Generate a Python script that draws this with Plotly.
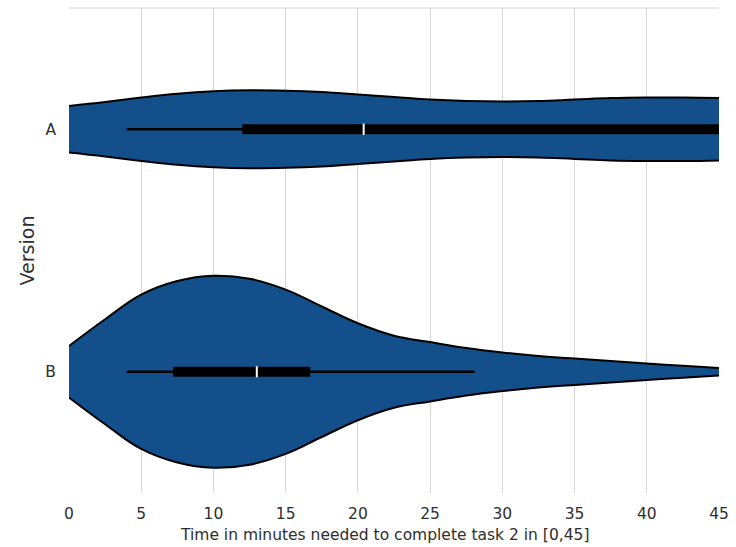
import plotly.graph_objects as go

# Versions, top to bottom
versions = ["A", "B"]

# Density profile of task-2 completion time (minutes), sampled every 2.5 min
grid = [0, 2.5, 5, 7.5, 10, 12.5, 15, 17.5, 20, 22.5, 25, 27.5, 30, 32.5, 35, 37.5, 40, 42.5, 45]
density_a = [0.240, 0.281, 0.327, 0.367, 0.393, 0.403, 0.398, 0.383, 0.357, 0.332,
             0.306, 0.291, 0.286, 0.291, 0.306, 0.321, 0.327, 0.327, 0.321]
density_b = [0.265, 0.541, 0.796, 0.936, 0.990, 0.959, 0.847, 0.673, 0.500, 0.372,
             0.306, 0.245, 0.199, 0.163, 0.136, 0.112, 0.085, 0.061, 0.039]

# Box summaries: lower whisker, Q1, median, Q3, upper whisker
box_a = [4.0, 12.0, 20.4, 45.0, 45.0]
box_b = [4.0, 7.2, 13.0, 16.7, 28.1]

x_ticks = [0, 5, 10, 15, 20, 25, 30, 35, 40, 45]
x_title = "Time in minutes needed to complete task 2 in [0,45]"
y_title = "Version"

densities = [density_a, density_b]
boxes = [box_a, box_b]

half_width = 0.40
fill_color = "#13508b"
edge = dict(color="black", width=2, shape="spline", smoothing=1.2)

fig = go.Figure()

n = len(versions)
for i, name in enumerate(versions):
    center = n - 1 - i
    dens = densities[i]
    lower = [center - half_width * d for d in dens]
    upper = [center + half_width * d for d in dens]
    fig.add_trace(go.Scatter(x=grid, y=lower, mode="lines", line=edge,
                             hoverinfo="skip", showlegend=False))
    fig.add_trace(go.Scatter(x=grid, y=upper, mode="lines", fill="tonexty",
                             fillcolor=fill_color, line=edge,
                             hoverinfo="skip", showlegend=False))

    lo, q1, med, q3, hi = boxes[i]
    # whiskers
    fig.add_trace(go.Scatter(x=[lo, hi], y=[center, center], mode="lines",
                             line=dict(color="black", width=2.5),
                             hoverinfo="skip", showlegend=False))
    # interquartile bar
    fig.add_trace(go.Scatter(x=[q1, q3], y=[center, center], mode="lines",
                             line=dict(color="black", width=10),
                             hoverinfo="skip", showlegend=False))
    # median tick
    fig.add_trace(go.Scatter(x=[med], y=[center], mode="markers",
                             marker=dict(symbol="line-ns", size=8,
                                         line=dict(color="white", width=2)),
                             hoverinfo="skip", showlegend=False))

font_color = "#2e2e2e"
fig.update_layout(
    width=736, height=547,
    margin=dict(l=69, r=17, t=8, b=54),
    plot_bgcolor="white", paper_bgcolor="white",
    font=dict(family="DejaVu Sans, sans-serif", size=15.5, color=font_color),
    xaxis=dict(range=[0, 45], tickvals=x_ticks,
               showgrid=True, gridcolor="#d8d4d1", gridwidth=1,
               zeroline=False, showline=False, ticks="", ticklabelstandoff=9),
    yaxis=dict(range=[-0.5, n - 0.5], tickvals=[n - 1 - i for i in range(n)],
               ticktext=versions, showgrid=False, zeroline=False, showline=False,
               ticks="", ticklabelstandoff=12,
               title=dict(text=y_title, standoff=5)),
    annotations=[dict(text=x_title, xref="paper", yref="paper", x=0.486, y=0,
                      xanchor="center", yanchor="middle", yshift=-42,
                      showarrow=False)],
    shapes=[dict(type="line", xref="paper", yref="paper", x0=0, x1=1, y0=1, y1=1,
                 line=dict(color="#d8d4d1", width=1))],
)

fig.write_html("out.html")
